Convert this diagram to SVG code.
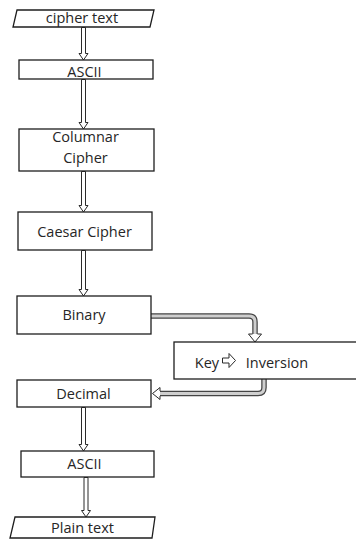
<svg xmlns="http://www.w3.org/2000/svg" width="356" height="544" viewBox="0 0 356 544">
  <style>
    .box { fill: #ffffff; stroke: #1e1e1e; stroke-width: 1.3; }
    .lbl { font-family: "Open Sans", "Liberation Sans", sans-serif; font-size: 14.5px; fill: #262626; text-anchor: middle; }
    .arr { fill: #ffffff; stroke: #2a2a2a; stroke-width: 1; stroke-linejoin: miter; }
    .pipe-out { fill: none; stroke: #444444; stroke-width: 5.5; stroke-linejoin: round; }
    .pipe-in { fill: none; stroke: #cfcfcf; stroke-width: 3; stroke-linejoin: round; }
  </style>
  <rect width="356" height="544" fill="#ffffff"/>

  <!-- connectors -->
  <g id="connectors">
    <!-- hollow block arrows between the stacked steps -->
    <path class="arr" d="M81.5,27.5 V53.5 H79 L83.5,60 L88,53.5 H85.5 V27.5 Z"/>
    <path class="arr" d="M81.5,79.5 V122.5 H79 L83.5,129 L88,122.5 H85.5 V79.5 Z"/>
    <path class="arr" d="M81.5,171.5 V205.5 H79 L83.5,212 L88,205.5 H85.5 V171.5 Z"/>
    <path class="arr" d="M81.5,250.5 V289.5 H79 L83.5,296 L88,289.5 H85.5 V250.5 Z"/>
    <path class="arr" d="M81.5,407.5 V444.5 H79 L83.5,451 L88,444.5 H85.5 V407.5 Z"/>
    <path class="arr" d="M84,477.5 V510.5 H81.5 L86,517 L90.5,510.5 H88 V477.5 Z"/>

    <!-- Binary to Key/Inversion -->
    <path class="pipe-out" d="M151,316 H249 Q255,316 255,322 V335"/>
    <path class="pipe-in" d="M151,316 H249 Q255,316 255,322 V335.5"/>
    <path class="arr" d="M252.5,334 H248.5 L255,342 L261.5,334 H257.5"/>

    <!-- Key/Inversion to Decimal -->
    <path class="pipe-out" d="M264,379 V387.5 Q264,393.5 258,393.5 H159"/>
    <path class="pipe-in" d="M264,379 V387.5 Q264,393.5 258,393.5 H158.5"/>
    <path class="arr" d="M160,391 V387.5 L152.5,393.5 L160,399.5 V396"/>
  </g>

  <g id="cipher-text">
    <polygon class="box" points="17,10 154,10 150,27 13,27"/>
    <text class="lbl" x="82" y="23">cipher text</text>
  </g>

  <g id="ascii-1">
    <rect class="box" x="19" y="60" width="134" height="19"/>
    <text class="lbl" x="84.5" y="77">ASCII</text>
  </g>

  <g id="columnar">
    <rect class="box" x="19" y="129" width="135" height="42"/>
    <text class="lbl" x="85.5" y="142">Columnar</text>
    <text class="lbl" x="85.5" y="163">Cipher</text>
  </g>

  <g id="caesar">
    <rect class="box" x="18" y="212" width="134" height="38"/>
    <text class="lbl" x="84.5" y="236.5">Caesar Cipher</text>
  </g>

  <g id="binary">
    <rect class="box" x="17" y="296" width="134" height="38"/>
    <text class="lbl" x="84" y="319.5">Binary</text>
  </g>

  <g id="key-inversion">
    <!-- box runs past the right edge of the canvas -->
    <rect class="box" x="174" y="342" width="300" height="37"/>
    <text class="lbl" x="207" y="368">Key</text>
    <path class="arr" stroke-width="1.1" d="M222.5,358 H229 V353.5 L235.5,360.5 L229,367.5 V363 H222.5 Z"/>
    <text class="lbl" x="277" y="368">Inversion</text>
  </g>

  <g id="decimal">
    <rect class="box" x="17" y="380" width="134" height="27"/>
    <text class="lbl" x="83.5" y="398.5">Decimal</text>
  </g>

  <g id="ascii-2">
    <rect class="box" x="21" y="451" width="133" height="26"/>
    <text class="lbl" x="84.5" y="468.5">ASCII</text>
  </g>

  <g id="plain-text">
    <polygon class="box" points="15,517 155,517 152,538 10,538"/>
    <text class="lbl" x="82.5" y="533">Plain text</text>
  </g>
</svg>
